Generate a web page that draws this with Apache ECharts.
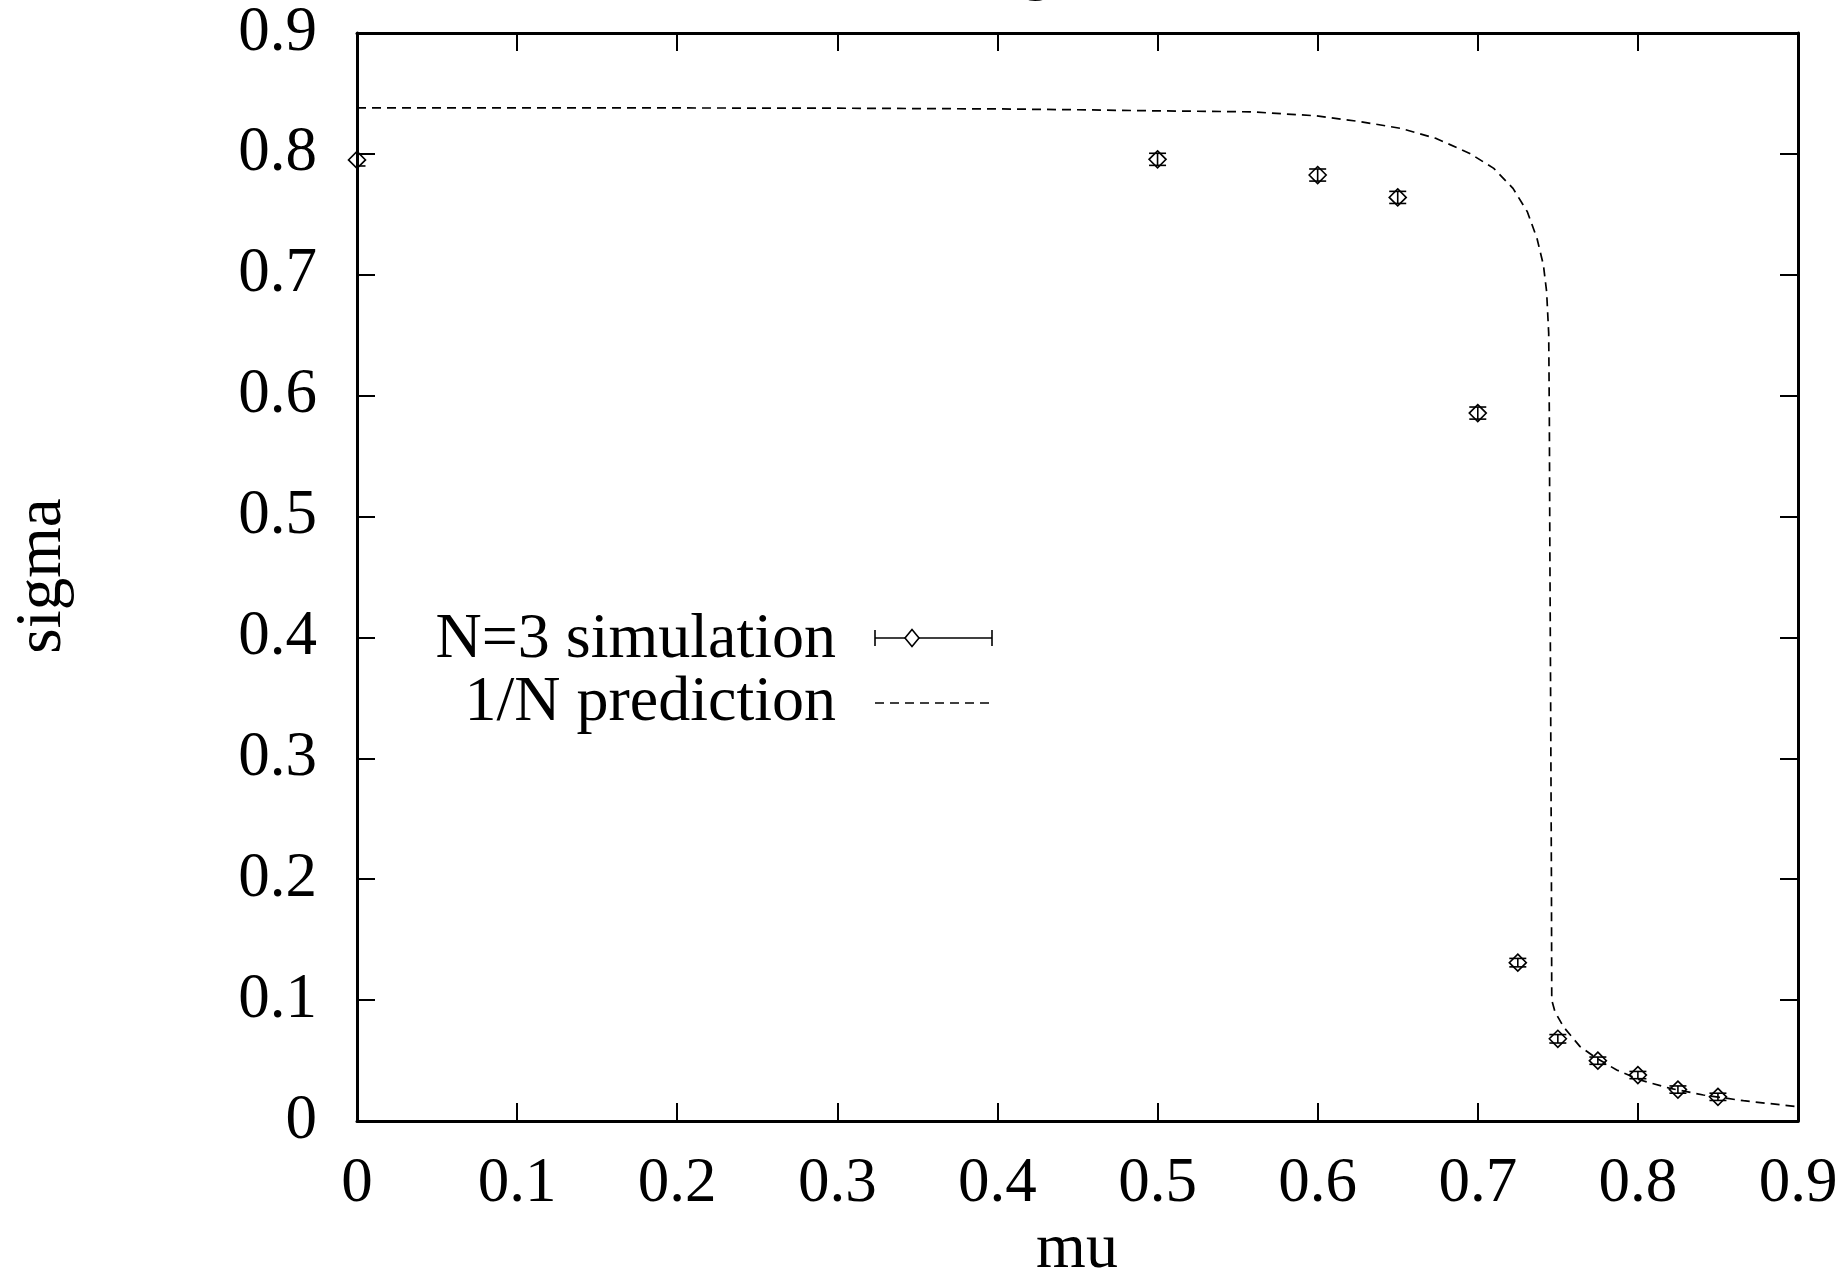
<!DOCTYPE html>
<html>
<head>
<meta charset="utf-8">
<script src="https://cdn.jsdelivr.net/npm/echarts@6/dist/echarts.min.js"></script>
<style>
html,body{margin:0;padding:0;background:#fff;}
#chart{width:1846px;height:1276px;}
</style>
</head>
<body>
<div id="chart"></div>
<script>
// ---- data ----
const muSim = [0, 0.5, 0.6, 0.65, 0.7, 0.725, 0.75, 0.775, 0.8, 0.825, 0.85];
const sigmaSim = [0.795, 0.7955, 0.7825, 0.764, 0.5856, 0.131, 0.068, 0.0499, 0.038, 0.026, 0.020];
const sigmaErr = [0.005, 0.005, 0.005, 0.005, 0.005, 0.0035, 0.0035, 0.003, 0.003, 0.003, 0.003];

const muPred = [0, 0.1, 0.2, 0.3, 0.4, 0.45, 0.5, 0.558, 0.599, 0.627, 0.652, 0.674, 0.695, 0.710, 0.722, 0.731, 0.737, 0.741, 0.743, 0.7443, 0.7447, 0.745, 0.7455, 0.746, 0.7462, 0.7482, 0.7535, 0.7639, 0.7743, 0.7868, 0.8014, 0.8201, 0.8409, 0.8659, 0.9];
const sigmaPred = [0.838, 0.838, 0.838, 0.8378, 0.8372, 0.8365, 0.8356, 0.8348, 0.8315, 0.8266, 0.8211, 0.8128, 0.8004, 0.788, 0.7715, 0.752, 0.730, 0.708, 0.686, 0.6515, 0.5826, 0.478, 0.35, 0.2, 0.100, 0.0904, 0.078, 0.0615, 0.0518, 0.0422, 0.0339, 0.027, 0.0215, 0.0168, 0.0118];

const xTickLabels = ['0', '0.1', '0.2', '0.3', '0.4', '0.5', '0.6', '0.7', '0.8', '0.9'];
const yTickLabels = ['0', '0.1', '0.2', '0.3', '0.4', '0.5', '0.6', '0.7', '0.8', '0.9'];
const legendNames = ['N=3 simulation', '1/N prediction'];
const xName = 'mu';
const yName = 'sigma';

// ---- chart ----
const FONT = 'Liberation Serif';
const FS = 64;
const chart = echarts.init(document.getElementById('chart'), null, {renderer: 'canvas'});

const simData = muSim.map((m, i) => [m, sigmaSim[i], sigmaErr[i]]);
const predData = muPred.map((m, i) => [m, sigmaPred[i]]);

const tickStyle = {show: true, inside: true, length: 18, lineStyle: {color: '#000', width: 2}};
const lineStyleAxis = {show: true, onZero: false, lineStyle: {color: '#000', width: 3}};

const option = {
  animation: false,
  backgroundColor: '#fff',
  grid: {left: 357, right: 48, top: 33, bottom: 155, containLabel: false},
  xAxis: [
    {
      type: 'value', min: 0, max: 0.9, interval: 0.1, position: 'bottom',
      axisLine: lineStyleAxis, axisTick: tickStyle, splitLine: {show: false},
      axisLabel: {
        margin: 32, color: '#000', fontFamily: FONT, fontSize: FS - 1,
        formatter: (v) => xTickLabels[Math.round(v * 10)]
      }
    },
    {
      type: 'value', min: 0, max: 0.9, interval: 0.1, position: 'top',
      axisLine: lineStyleAxis, axisTick: tickStyle, splitLine: {show: false},
      axisLabel: {show: false}
    }
  ],
  yAxis: [
    {
      type: 'value', min: 0, max: 0.9, interval: 0.1, position: 'left',
      axisLine: lineStyleAxis, axisTick: tickStyle, splitLine: {show: false},
      axisLabel: {
        margin: 40, color: '#000', fontFamily: FONT, fontSize: FS - 1,
        formatter: (v) => yTickLabels[Math.round(v * 10)]
      }
    },
    {
      type: 'value', min: 0, max: 0.9, interval: 0.1, position: 'right',
      axisLine: lineStyleAxis, axisTick: tickStyle, splitLine: {show: false},
      axisLabel: {show: false}
    }
  ],
  series: [
    {
      name: legendNames[1],
      type: 'line',
      xAxisIndex: 0, yAxisIndex: 0,
      data: predData,
      showSymbol: false,
      symbol: 'none',
      smooth: false,
      lineStyle: {color: '#000', width: 1.7, type: [9, 6]},
      z: 2
    },
    {
      name: legendNames[0],
      type: 'custom',
      xAxisIndex: 0, yAxisIndex: 0,
      clip: false,
      data: simData,
      renderItem: function (params, api) {
        const x = api.value(0), y = api.value(1), e = api.value(2);
        const c = api.coord([x, y]);
        const t = api.coord([x, y + e]);
        const b = api.coord([x, y - e]);
        const xl = api.coord([0, 0])[0];
        const xr = api.coord([0.9, 0])[0];
        const hw = 8.5, d = 8.5;
        const cl = Math.max(c[0] - hw, xl), cr = Math.min(c[0] + hw, xr);
        const st = {stroke: '#000', lineWidth: 1.6, fill: null};
        return {
          type: 'group',
          children: [
            {type: 'line', shape: {x1: c[0], y1: t[1], x2: c[0], y2: b[1]}, style: st},
            {type: 'line', shape: {x1: cl, y1: t[1], x2: cr, y2: t[1]}, style: st},
            {type: 'line', shape: {x1: cl, y1: b[1], x2: cr, y2: b[1]}, style: st},
            {type: 'polygon', shape: {points: [[c[0], c[1] - d], [c[0] + d, c[1]], [c[0], c[1] + d], [c[0] - d, c[1]]]},
             style: {stroke: '#000', lineWidth: 1.6, fill: 'rgba(0,0,0,0)'}}
          ]
        };
      },
      z: 3
    }
  ],
  graphic: [
    // axis names
    {type: 'text', x: 1077, y: 1250,
     style: {text: xName, font: FS + 'px "' + FONT + '"', fill: '#000', align: 'center', verticalAlign: 'middle'}},
    {type: 'text', x: 43, y: 576, rotation: Math.PI / 2,
     style: {text: yName, font: (FS + 1) + 'px "' + FONT + '"', fill: '#000', align: 'center', verticalAlign: 'middle'}},
    // clipped title fragment at top
    {type: 'text', x: 1036, y: -30,
     style: {text: 'g', font: FS + 'px "' + FONT + '"', fill: '#000', align: 'center', verticalAlign: 'middle'}},
    // legend
    {type: 'text', x: 836, y: 640,
     style: {text: legendNames[0], font: FS + 'px "' + FONT + '"', fill: '#000', align: 'right', verticalAlign: 'middle'}},
    {type: 'text', x: 836, y: 703,
     style: {text: legendNames[1], font: FS + 'px "' + FONT + '"', fill: '#000', align: 'right', verticalAlign: 'middle'}},
    {type: 'line', shape: {x1: 875, y1: 638, x2: 992, y2: 638}, style: {stroke: '#000', lineWidth: 1.6}},
    {type: 'line', shape: {x1: 875, y1: 630, x2: 875, y2: 646}, style: {stroke: '#000', lineWidth: 1.6}},
    {type: 'line', shape: {x1: 992, y1: 630, x2: 992, y2: 646}, style: {stroke: '#000', lineWidth: 1.6}},
    {type: 'polygon', shape: {points: [[912, 629.5], [919, 638], [912, 646.5], [905, 638]]},
     style: {stroke: '#000', lineWidth: 1.6, fill: '#fff'}},
    {type: 'line', shape: {x1: 875, y1: 703, x2: 992, y2: 703},
     style: {stroke: '#000', lineWidth: 1.6, lineDash: [9, 6]}}
  ]
};
chart.setOption(option);
</script>
</body>
</html>
